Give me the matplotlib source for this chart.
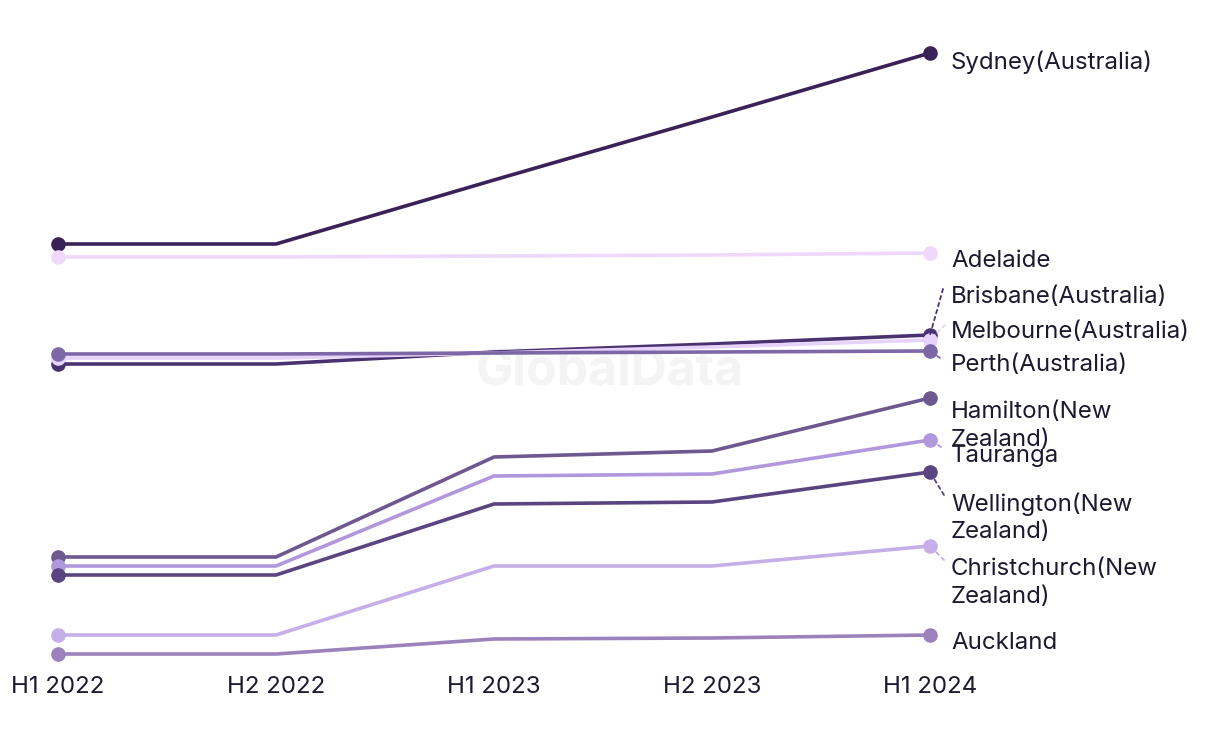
import matplotlib.pyplot as plt

periods = ['H1 2022', 'H2 2022', 'H1 2023', 'H2 2023', 'H1 2024']

cities = ['Sydney(Australia)', 'Adelaide', 'Brisbane(Australia)', 'Melbourne(Australia)',
          'Perth(Australia)', 'Hamilton(New\nZealand)', 'Tauranga', 'Wellington(New\nZealand)',
          'Christchurch(New\nZealand)', 'Auckland']

sydney = [41.6, 41.6, 48.0, 54.3, 60.7]
adelaide = [40.3, 40.3, 40.4, 40.5, 40.7]
brisbane = [29.6, 29.6, 30.8, 31.6, 32.5]
melbourne = [30.2, 30.2, 30.7, 31.3, 32.0]
perth = [30.6, 30.6, 30.7, 30.8, 30.9]
hamilton = [10.3, 10.3, 20.3, 20.9, 26.2]
tauranga = [9.4, 9.4, 18.4, 18.6, 22.0]
wellington = [8.5, 8.5, 15.6, 15.8, 18.8]
christchurch = [2.5, 2.5, 9.4, 9.4, 11.4]
auckland = [0.6, 0.6, 2.1, 2.2, 2.5]

series = [sydney, adelaide, brisbane, melbourne, perth,
          hamilton, tauranga, wellington, christchurch, auckland]
colors = ['#3a2158', '#f0d8fb', '#4a3270', '#e6d2fb', '#7e67a6',
          '#6e5890', '#b197dc', '#5a4580', '#c6aee8', '#9b82bd']

# label placement (figure pixels from top) and leader line end (None = no leader)
label_y = [59, 259, 295, 330, 363, 410, 454, 501, 567, 641]
leader = [None, None, (943, 289), (945, 325), (940, 358), None, (941, 447),
          (944, 495), (944, 560), None]

plt.rcParams['font.family'] = ['Inter', 'DejaVu Sans']

W, H = 1220, 744
fig = plt.figure(figsize=(W / 100, H / 100), dpi=100)
ax = fig.add_axes([58 / W, 1 - 670 / H, (930 - 58) / W, 640 / H])
ax.set_zorder(1)
ax.set_xlim(0, 4)
ax.set_ylim(-1.0, 63.0)

x = list(range(len(periods)))
for vals, c in zip(series, colors):
    ax.plot(x, vals, color=c, lw=2.6, marker='o', markersize=9.5,
            markevery=[0, len(x) - 1], clip_on=False, solid_capstyle='butt')

text_col = '#1c1a2e'
for name, vals, c, ly, ld in zip(cities, series, colors, label_y, leader):
    fig.text(951 / W, 1 - (ly - 9) / H, name, fontsize=17.3, color=text_col,
             ha='left', va='top', linespacing=1.33)
    if ld is not None:
        ax.annotate('', xy=(4, vals[-1]), xycoords='data',
                    xytext=(ld[0], H - ld[1]), textcoords='figure pixels',
                    arrowprops=dict(arrowstyle='-', color=c, lw=1.3,
                                    linestyle=(0, (2, 2)), shrinkA=0, shrinkB=0))

fig.text(610 / W, 1 - 372 / H, 'GlobalData', fontsize=36, fontweight='bold',
         color='#f4f4f4', ha='center', va='center', zorder=0)

ax.set_xticks(x)
ax.set_xticklabels(periods, fontsize=17.3, color=text_col)
ax.tick_params(axis='x', length=0, pad=4.5)
ax.set_yticks([])
for s in ax.spines.values():
    s.set_visible(False)
ax.patch.set_alpha(0)

fig.savefig('out.png', dpi=100)
